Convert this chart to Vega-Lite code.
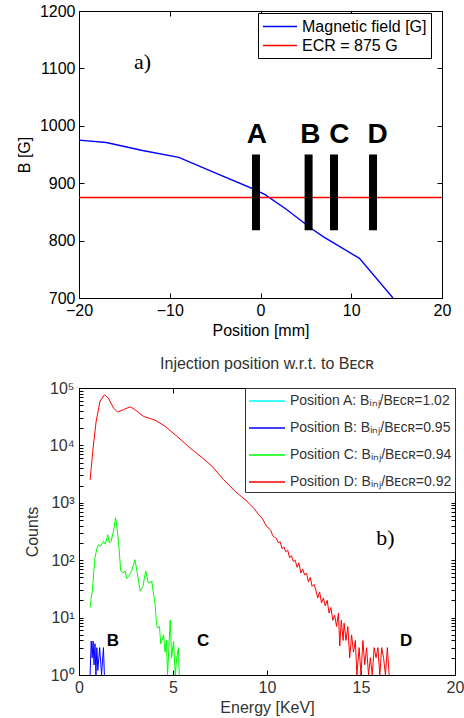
{
  "$schema": "https://vega.github.io/schema/vega-lite/v6.json",
  "padding": {"left": 15, "top": 2, "right": 0, "bottom": 2},
  "spacing": 16,
  "resolve": {"scale": {"color": "independent"}, "legend": {"color": "independent"}},
  "config": {
    "font": "Liberation Sans",
    "view": {"stroke": "black", "strokeWidth": 1},
    "axis": {
      "grid": false, "domainColor": "black", "tickColor": "black",
      "labelFontSize": 16, "titleFontSize": 16, "titleFontWeight": "normal",
      "labelColor": "black", "titleColor": "black", "tickSize": -5, "labelPadding": 9,
      "labelOverlap": false, "labelFlush": false, "format": "d"
    }
  },
  "vconcat": [
    {
      "width": 363, "height": 287,
      "resolve": {"axis": {"x": "independent", "y": "independent"}},
      "layer": [
        {
          "data": {"values": [
            {"series": "Magnetic field [G]", "pos": -20, "B": 975},
            {"series": "Magnetic field [G]", "pos": -17, "B": 971},
            {"series": "Magnetic field [G]", "pos": -13, "B": 957},
            {"series": "Magnetic field [G]", "pos": -9, "B": 945},
            {"series": "Magnetic field [G]", "pos": -5, "B": 918},
            {"series": "Magnetic field [G]", "pos": -0.5, "B": 888},
            {"series": "Magnetic field [G]", "pos": 0.5, "B": 880},
            {"series": "Magnetic field [G]", "pos": 2.8, "B": 855},
            {"series": "Magnetic field [G]", "pos": 5.6, "B": 821},
            {"series": "Magnetic field [G]", "pos": 6.9, "B": 807},
            {"series": "Magnetic field [G]", "pos": 10.9, "B": 769},
            {"series": "Magnetic field [G]", "pos": 14.6, "B": 700},
            {"series": "ECR = 875 G", "pos": -20, "B": 875},
            {"series": "ECR = 875 G", "pos": 20, "B": 875}
          ]},
          "mark": {"type": "line", "strokeWidth": 1.4, "clip": true},
          "encoding": {
            "x": {"field": "pos", "type": "quantitative", "scale": {"domain": [-20, 20], "nice": false},
                  "axis": {"title": "Position [mm]", "values": [-20, -10, 0, 10, 20], "titlePadding": 4}},
            "y": {"field": "B", "type": "quantitative", "scale": {"domain": [700, 1200], "nice": false},
                  "axis": {"title": "B [G]", "values": [700, 800, 900, 1000, 1100, 1200], "titlePadding": 7}},
            "color": {"field": "series", "type": "nominal",
                      "scale": {"domain": ["Magnetic field [G]", "ECR = 875 G"], "range": ["#0000ff", "#ff0000"]},
                      "legend": {"title": null, "orient": "none", "legendX": 179, "legendY": 2,
                                 "strokeColor": "black", "fillColor": "white", "padding": 4,
                                 "symbolType": "M-1,0H3", "symbolSize": 289, "symbolStrokeWidth": 1.3,
                                 "labelFontSize": 16, "labelColor": "black", "rowPadding": 1, "labelOffset": 21, "labelLimit": 300}}
          }
        },
        {
          "data": {"values": [
            {"pos": -0.5, "lo": 818, "hi": 950},
            {"pos": 5.3, "lo": 818, "hi": 950},
            {"pos": 8.1, "lo": 818, "hi": 950},
            {"pos": 12.4, "lo": 818, "hi": 950}
          ]},
          "mark": {"type": "rule", "strokeWidth": 8, "color": "black"},
          "encoding": {
            "x": {"field": "pos", "type": "quantitative", "axis": null},
            "y": {"field": "lo", "type": "quantitative", "axis": null},
            "y2": {"field": "hi"}
          }
        },
        {
          "data": {"values": [
            {"pos": -0.4, "B": 984, "t": "A"},
            {"pos": 5.5, "B": 984, "t": "B"},
            {"pos": 8.7, "B": 984, "t": "C"},
            {"pos": 12.9, "B": 984, "t": "D"}
          ]},
          "mark": {"type": "text", "fontSize": 28, "fontWeight": "bold", "font": "Liberation Sans", "color": "black"},
          "encoding": {
            "x": {"field": "pos", "type": "quantitative", "axis": null},
            "y": {"field": "B", "type": "quantitative", "axis": null},
            "text": {"field": "t"}
          }
        },
        {
          "data": {"values": [{"pos": -13, "B": 1112, "t": "a)"}]},
          "mark": {"type": "text", "fontSize": 22, "font": "Liberation Serif", "color": "black"},
          "encoding": {
            "x": {"field": "pos", "type": "quantitative",
                  "axis": {"orient": "top", "labels": false, "title": null, "domain": false, "values": [-20, -10, 0, 10, 20]}},
            "y": {"field": "B", "type": "quantitative",
                  "axis": {"orient": "right", "labels": false, "title": null, "domain": false, "values": [700, 800, 900, 1000, 1100, 1200]}},
            "text": {"field": "t"}
          }
        }
      ]
    },
    {
      "width": 376, "height": 287,
      "title": {"text": "Injection position w.r.t. to Bᴇᴄʀ", "fontSize": 16, "fontWeight": "normal", "color": "#333", "offset": 8, "font": "Liberation Sans"},
      "resolve": {"axis": {"x": "independent", "y": "independent"}},
      "layer": [
        {
          "data": {"values": [
            {"p": "B", "E": 0.59, "c": 1}, {"p": "B", "E": 0.65, "c": 3.9}, {"p": "B", "E": 0.7, "c": 2}, {"p": "B", "E": 0.75, "c": 3.9},
            {"p": "B", "E": 0.8, "c": 1.5}, {"p": "B", "E": 0.85, "c": 3.5}, {"p": "B", "E": 0.9, "c": 1}, {"p": "B", "E": 0.95, "c": 3},
            {"p": "B", "E": 1.0, "c": 1.2}, {"p": "B", "E": 1.1, "c": 3}, {"p": "B", "E": 1.2, "c": 1}, {"p": "B", "E": 1.3, "c": 3}, {"p": "B", "E": 1.35, "c": 1},
            {"p": "C", "E": 0.59, "c": 15}, {"p": "C", "E": 0.65, "c": 22}, {"p": "C", "E": 0.71, "c": 29}, {"p": "C", "E": 0.78, "c": 60},
            {"p": "C", "E": 0.85, "c": 110}, {"p": "C", "E": 0.95, "c": 160}, {"p": "C", "E": 1.03, "c": 186}, {"p": "C", "E": 1.15, "c": 175},
            {"p": "C", "E": 1.3, "c": 213}, {"p": "C", "E": 1.4, "c": 190}, {"p": "C", "E": 1.53, "c": 277}, {"p": "C", "E": 1.62, "c": 200},
            {"p": "C", "E": 1.71, "c": 215}, {"p": "C", "E": 1.83, "c": 318}, {"p": "C", "E": 1.95, "c": 550}, {"p": "C", "E": 2.05, "c": 300},
            {"p": "C", "E": 2.13, "c": 162}, {"p": "C", "E": 2.22, "c": 65}, {"p": "C", "E": 2.35, "c": 60}, {"p": "C", "E": 2.45, "c": 65},
            {"p": "C", "E": 2.55, "c": 48}, {"p": "C", "E": 2.63, "c": 52}, {"p": "C", "E": 2.8, "c": 65}, {"p": "C", "E": 2.98, "c": 102},
            {"p": "C", "E": 3.1, "c": 60}, {"p": "C", "E": 3.25, "c": 29}, {"p": "C", "E": 3.4, "c": 35}, {"p": "C", "E": 3.55, "c": 65},
            {"p": "C", "E": 3.69, "c": 40}, {"p": "C", "E": 3.87, "c": 43}, {"p": "C", "E": 3.95, "c": 28}, {"p": "C", "E": 4.05, "c": 17},
            {"p": "C", "E": 4.12, "c": 8}, {"p": "C", "E": 4.17, "c": 6.6}, {"p": "C", "E": 4.28, "c": 7}, {"p": "C", "E": 4.35, "c": 3.5},
            {"p": "C", "E": 4.4, "c": 3.9}, {"p": "C", "E": 4.5, "c": 5}, {"p": "C", "E": 4.58, "c": 2.5}, {"p": "C", "E": 4.65, "c": 4},
            {"p": "C", "E": 4.71, "c": 1}, {"p": "C", "E": 4.78, "c": 3}, {"p": "C", "E": 4.85, "c": 9.1}, {"p": "C", "E": 4.93, "c": 2},
            {"p": "C", "E": 5.03, "c": 3.9}, {"p": "C", "E": 5.12, "c": 1}, {"p": "C", "E": 5.2, "c": 2}, {"p": "C", "E": 5.29, "c": 3},
            {"p": "C", "E": 5.33, "c": 1},
            {"p": "D", "E": 0.59, "c": 2500}, {"p": "D", "E": 0.75, "c": 9000}, {"p": "D", "E": 0.91, "c": 26000}, {"p": "D", "E": 1.12, "c": 59000},
            {"p": "D", "E": 1.35, "c": 76000}, {"p": "D", "E": 1.56, "c": 67000}, {"p": "D", "E": 1.83, "c": 45000}, {"p": "D", "E": 2.06, "c": 38000},
            {"p": "D", "E": 2.36, "c": 42000}, {"p": "D", "E": 2.72, "c": 47000}, {"p": "D", "E": 2.98, "c": 42000}, {"p": "D", "E": 3.43, "c": 32000},
            {"p": "D", "E": 4.05, "c": 27500}, {"p": "D", "E": 4.58, "c": 21500}, {"p": "D", "E": 5.2, "c": 14500}, {"p": "D", "E": 5.91, "c": 9000},
            {"p": "D", "E": 6.54, "c": 6150}, {"p": "D", "E": 7.07, "c": 4350}, {"p": "D", "E": 7.69, "c": 2530}, {"p": "D", "E": 8.31, "c": 1580},
            {"p": "D", "E": 8.93, "c": 1070}, {"p": "D", "E": 9.3, "c": 800}, {"p": "D", "E": 9.56, "c": 620}, {"p": "D", "E": 9.7, "c": 560},
            {"p": "D", "E": 9.8, "c": 500}, {"p": "D", "E": 9.9, "c": 430}, {"p": "D", "E": 10.0, "c": 380}, {"p": "D", "E": 10.1, "c": 360},
            {"p": "D", "E": 10.2, "c": 330}, {"p": "D", "E": 10.3, "c": 270}, {"p": "D", "E": 10.4, "c": 250}, {"p": "D", "E": 10.5, "c": 240},
            {"p": "D", "E": 10.6, "c": 200}, {"p": "D", "E": 10.7, "c": 210}, {"p": "D", "E": 10.8, "c": 160}, {"p": "D", "E": 10.9, "c": 170},
            {"p": "D", "E": 11.0, "c": 140}, {"p": "D", "E": 11.1, "c": 150}, {"p": "D", "E": 11.2, "c": 110}, {"p": "D", "E": 11.3, "c": 120},
            {"p": "D", "E": 11.4, "c": 95}, {"p": "D", "E": 11.5, "c": 100}, {"p": "D", "E": 11.6, "c": 75}, {"p": "D", "E": 11.7, "c": 90},
            {"p": "D", "E": 11.8, "c": 60}, {"p": "D", "E": 11.9, "c": 70}, {"p": "D", "E": 12.0, "c": 55}, {"p": "D", "E": 12.1, "c": 60},
            {"p": "D", "E": 12.2, "c": 42}, {"p": "D", "E": 12.3, "c": 50}, {"p": "D", "E": 12.4, "c": 35}, {"p": "D", "E": 12.5, "c": 38},
            {"p": "D", "E": 12.6, "c": 30}, {"p": "D", "E": 12.7, "c": 22}, {"p": "D", "E": 12.8, "c": 28}, {"p": "D", "E": 12.9, "c": 18},
            {"p": "D", "E": 13.0, "c": 22}, {"p": "D", "E": 13.1, "c": 16}, {"p": "D", "E": 13.2, "c": 20}, {"p": "D", "E": 13.3, "c": 12},
            {"p": "D", "E": 13.4, "c": 15}, {"p": "D", "E": 13.5, "c": 9}, {"p": "D", "E": 13.6, "c": 11}, {"p": "D", "E": 13.7, "c": 7},
            {"p": "D", "E": 13.8, "c": 12}, {"p": "D", "E": 13.87, "c": 3.2}, {"p": "D", "E": 13.95, "c": 9}, {"p": "D", "E": 14.05, "c": 4},
            {"p": "D", "E": 14.1, "c": 8}, {"p": "D", "E": 14.2, "c": 4}, {"p": "D", "E": 14.3, "c": 7}, {"p": "D", "E": 14.4, "c": 2},
            {"p": "D", "E": 14.5, "c": 5}, {"p": "D", "E": 14.6, "c": 2.5}, {"p": "D", "E": 14.7, "c": 4}, {"p": "D", "E": 14.78, "c": 1},
            {"p": "D", "E": 14.9, "c": 3}, {"p": "D", "E": 15.0, "c": 1}, {"p": "D", "E": 15.1, "c": 4}, {"p": "D", "E": 15.2, "c": 1.5},
            {"p": "D", "E": 15.3, "c": 3}, {"p": "D", "E": 15.4, "c": 1}, {"p": "D", "E": 15.5, "c": 2}, {"p": "D", "E": 15.6, "c": 1},
            {"p": "D", "E": 15.7, "c": 3}, {"p": "D", "E": 15.8, "c": 2}, {"p": "D", "E": 15.9, "c": 3}, {"p": "D", "E": 16.0, "c": 1},
            {"p": "D", "E": 16.1, "c": 3}, {"p": "D", "E": 16.2, "c": 2}, {"p": "D", "E": 16.3, "c": 1}, {"p": "D", "E": 16.4, "c": 3},
            {"p": "D", "E": 16.5, "c": 1}
          ]},
          "mark": {"type": "line", "strokeWidth": 1, "clip": true},
          "encoding": {
            "x": {"field": "E", "type": "quantitative", "scale": {"domain": [0, 20], "nice": false},
                  "axis": {"title": "Energy [KeV]", "values": [0, 5, 10, 15, 20], "labelColor": "#333", "titleColor": "#333", "titlePadding": 4}},
            "y": {"field": "c", "type": "quantitative", "scale": {"type": "log", "domain": [1, 100000], "nice": false},
                  "axis": {"title": "Counts", "labelColor": "#333", "titleColor": "#333", "titlePadding": 9, "tickSize": -4,
                           "values": [1, 2, 3, 4, 5, 6, 7, 8, 9, 10, 20, 30, 40, 50, 60, 70, 80, 90, 100, 200, 300, 400, 500, 600, 700, 800, 900, 1000, 2000, 3000, 4000, 5000, 6000, 7000, 8000, 9000, 10000, 20000, 30000, 40000, 50000, 60000, 70000, 80000, 90000, 100000],
                           "labelExpr": "abs(log(datum.value)/LN10 - round(log(datum.value)/LN10)) > 0.01 ? '' : '10' + ['⁰','¹','²','³','⁴','⁵'][round(log(datum.value)/LN10)]"}},
            "color": {"field": "p", "type": "nominal",
                      "scale": {"domain": ["A", "B", "C", "D"], "range": ["#00ffff", "#0000ff", "#00ff00", "#ff0000"]},
                      "legend": {"title": null, "orient": "top-right", "offset": 0,
                                 "strokeColor": "#333", "fillColor": "white", "padding": 3,
                                 "symbolType": "M-1,0H3", "symbolSize": 324, "symbolStrokeWidth": 1.6,
                                 "labelFontSize": 14, "labelColor": "#333", "rowPadding": 10, "labelOffset": 22, "labelLimit": 300,
                                 "labelExpr": "'Position ' + datum.label + ': Bᵢₙⱼ/Bᴇᴄʀ=' + (datum.label == 'A' ? '1.02' : datum.label == 'B' ? '0.95' : datum.label == 'C' ? '0.94' : '0.92')"}}
          }
        },
        {
          "data": {"values": [
            {"E": 1.8, "c": 3.9, "t": "B"},
            {"E": 6.6, "c": 3.9, "t": "C"},
            {"E": 17.4, "c": 3.9, "t": "D"}
          ]},
          "mark": {"type": "text", "fontSize": 17, "fontWeight": "bold", "font": "Liberation Sans", "color": "black"},
          "encoding": {
            "x": {"field": "E", "type": "quantitative", "axis": null},
            "y": {"field": "c", "type": "quantitative", "axis": null},
            "text": {"field": "t"}
          }
        },
        {
          "data": {"values": [{"E": 16.3, "c": 245, "t": "b)"}]},
          "mark": {"type": "text", "fontSize": 22, "font": "Liberation Serif", "color": "black"},
          "encoding": {
            "x": {"field": "E", "type": "quantitative",
                  "axis": {"orient": "top", "labels": false, "title": null, "domain": false, "values": [0, 5, 10, 15, 20]}},
            "y": {"field": "c", "type": "quantitative",
                  "axis": {"orient": "right", "labels": false, "title": null, "domain": false, "tickSize": -4,
                           "values": [1, 2, 3, 4, 5, 6, 7, 8, 9, 10, 20, 30, 40, 50, 60, 70, 80, 90, 100, 200, 300, 400, 500, 600, 700, 800, 900, 1000, 2000, 3000, 4000, 5000, 6000, 7000, 8000, 9000, 10000, 20000, 30000, 40000, 50000, 60000, 70000, 80000, 90000, 100000]}},
            "text": {"field": "t"}
          }
        }
      ]
    }
  ]
}
